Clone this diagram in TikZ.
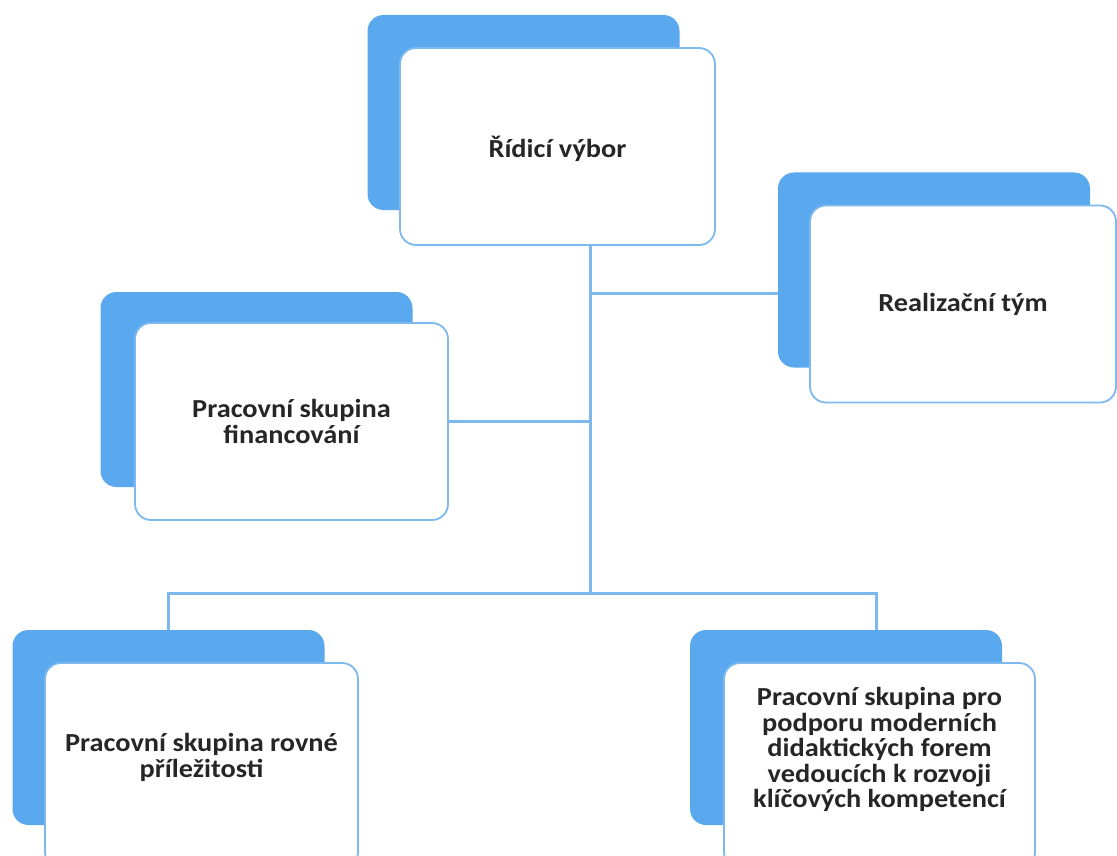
\documentclass[tikz,border=0pt]{standalone}
\usepackage{fontspec}
\setmainfont{Carlito}[FakeStretch=1.09]
\usepackage{tikz}
\usetikzlibrary{backgrounds}

\definecolor{stinmodra}{RGB}{90,168,238}
\definecolor{carmodra}{RGB}{125,185,238}

\tikzset{
  stin/.style = {fill=stinmodra, rounded corners=16pt, minimum width=312pt, minimum height=195pt},
  box/.style = {draw=carmodra, line width=1.8pt, fill=white, rounded corners=16pt,
                minimum width=313pt, minimum height=197pt, align=center,
                font=\bfseries\fontsize{26}{25.5}\selectfont, text=black!85},
  spoj/.style = {draw=carmodra, line width=3pt}
}

\begin{document}
\begin{tikzpicture}[x=1pt, y=-1pt]
\useasboundingbox (0,0) rectangle (1117,856);

% stiny
\node [stin] (ridiciS) at (523.5,112.5) {};
\node [stin] (realizaceS) at (934,270) {};
\node [stin] (financovaniS) at (256.5,389.5) {};
\node [stin] (rovneS) at (168.5,727.5) {};
\node [stin] (podporaS) at (846,727.5) {};

% boxy
\node [box, minimum width=315pt, text height=27pt] (ridici) at (557.5,146.5) {Řídicí výbor};
\node [box, minimum width=306pt] (realizace) at (963,304) {Realizační tým};
\node [box] (financovani) at (291.5,421.5) {Pracovní skupina\\ financování};
\node [box, minimum height=205pt, text depth=20pt] (rovne) at (201.5,765.5) {Pracovní skupina rovné\\ příležitosti};
\node [box, minimum width=311pt, minimum height=205pt, text depth=36pt] (podpora) at (879.5,765.5)
  {Pracovní skupina pro\\ podporu moderních\\ didaktických forem\\ vedoucích k rozvoji\\ klíčových kompetencí};

% spojnice
\coordinate (uzel) at (590,593);
\coordinate (odbocka) at (590,293);
\coordinate (levy) at (168,593);
\coordinate (pravy) at (876,593);
\begin{pgfonlayer}{background}
\draw [spoj] (ridici.south -| uzel) -- (uzel);
\draw [spoj] (odbocka) -- (odbocka -| realizaceS.west);
\draw [spoj] (financovani.east) -- (financovani.east -| uzel);
\draw [spoj] (levy |- rovneS.north) -- (levy) -- (pravy) -- (pravy |- podporaS.north);
\end{pgfonlayer}
\end{tikzpicture}
\end{document}
